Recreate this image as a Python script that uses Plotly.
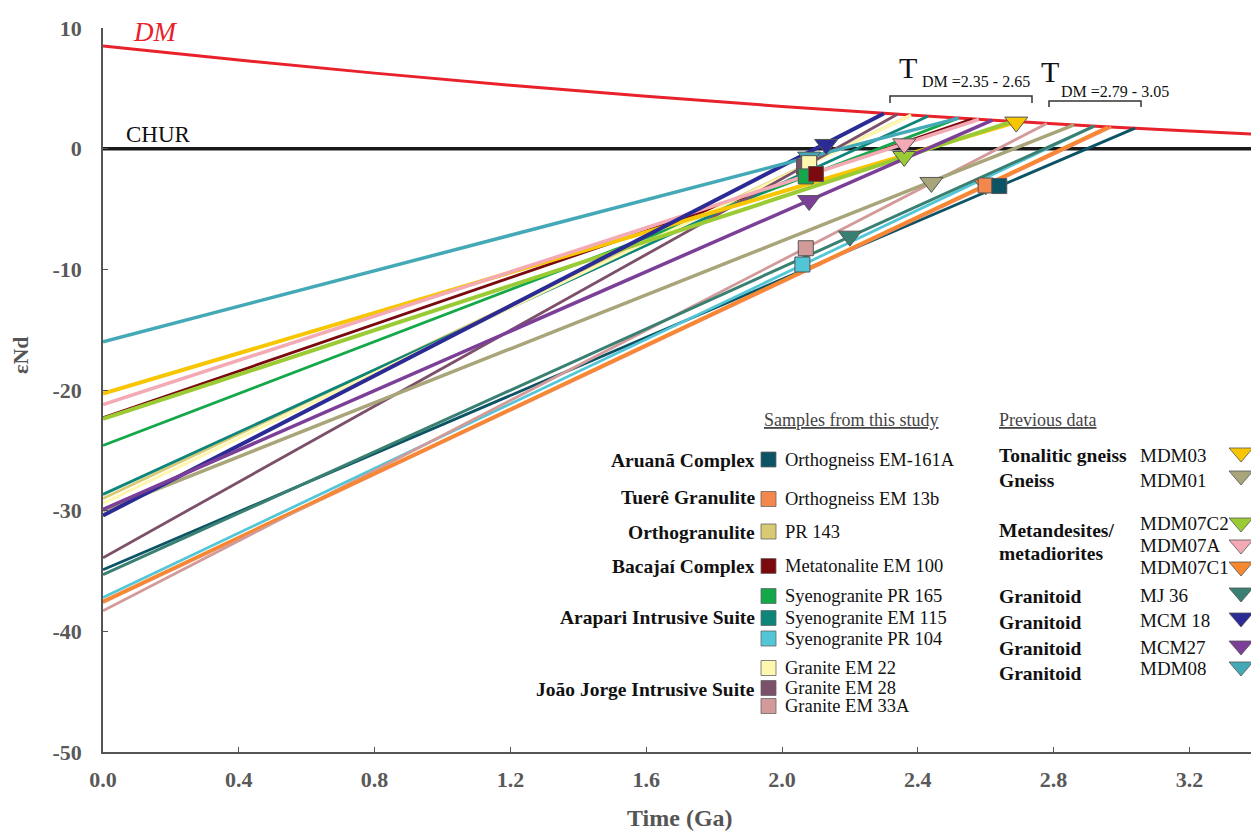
import plotly.graph_objects as go

# ---------------- DATA ----------------
# Depleted mantle curve
dm_t = [0.0, 0.4, 0.8, 1.2, 1.6, 2.0, 2.4, 2.8, 3.2, 3.4]
dm_eps = [8.5, 7.34, 6.26, 5.26, 4.34, 3.5, 2.74, 2.06, 1.46, 1.19]
chur_t = [0.0, 3.4]
chur_eps = [0.0, 0.0]

# Samples from this study (squares)
s_names = ["Orthogneiss EM-161A", "Orthogneiss EM 13b", "PR 143", "Metatonalite EM 100",
           "Syenogranite PR 165", "Syenogranite EM 115", "Syenogranite PR 104",
           "Granite EM 22", "Granite EM 28", "Granite EM 33A"]
s_colors = ["#0c5366", "#f4874b", "#d8ca72", "#7a0a0e", "#15a84a", "#0e857b",
            "#52c6d6", "#fff6b0", "#7b5068", "#d39a9a"]
s_eps0 = [-34.9, -37.6, -29.0, -22.3, -24.6, -28.65, -37.2, -29.4, -33.9, -38.3]
s_t = [2.64, 2.60, 2.07, 2.10, 2.07, 2.08, 2.06, 2.08, 2.065, 2.07]
s_eps_t = [-3.1, -3.05, -1.4, -2.1, -2.3, -1.8, -9.6, -1.2, -1.5, -8.25]
s_tdm = [3.04, 2.97, 2.38, 2.56, 2.52, 2.43, 2.92, 2.38, 2.34, 2.78]
s_eps_dm = [1.70, 1.80, 2.78, 2.46, 2.53, 2.69, 1.87, 2.78, 2.85, 2.09]
s_width = [2.8, 2.8, 2.8, 2.8, 2.8, 2.8, 2.8, 3.0, 2.8, 2.8]

# Previous data (inverted triangles)
p_names = ["MDM03", "MDM01", "MDM07C2", "MDM07A", "MDM07C1", "MJ 36", "MCM 18", "MCM27", "MDM08"]
p_colors = ["#f7c600", "#a8a57a", "#9bcb34", "#f4aab4", "#f7882f", "#3a8072",
            "#2b2b96", "#7c3f98", "#44a9b6"]
p_eps0 = [-20.3, -30.0, -22.4, -21.2, -37.5, -35.3, -30.4, -29.9, -16.0]
p_t = [2.69, 2.44, 2.36, 2.36, 2.60, 2.20, 2.13, 2.08, 2.08]
p_eps_t = [2.2, -2.8, -0.65, 0.4, -3.0, -7.25, 0.35, -4.3, -0.7]
p_tdm = [2.69, 2.86, 2.68, 2.58, 2.96, 2.92, 2.30, 2.62, 2.52]
p_eps_dm = [2.2, 1.97, 2.26, 2.42, 1.81, 1.87, 2.92, 2.36, 2.53]
p_width = [4.0, 3.5, 4.0, 3.5, 2.8, 3.0, 4.0, 3.5, 3.5]

x_ticks = [0.0, 0.4, 0.8, 1.2, 1.6, 2.0, 2.4, 2.8, 3.2]
x_labels = ["0.0", "0.4", "0.8", "1.2", "1.6", "2.0", "2.4", "2.8", "3.2"]
y_ticks = [-50, -40, -30, -20, -10, 0, 10]
y_labels = ["-50", "-40", "-30", "-20", "-10", "0", "10"]

# Legend layout
s_groups = [("Aruanã Complex", 460), ("Tuerê Granulite", 498), ("Orthogranulite", 532),
            ("Bacajaí Complex", 566), ("Arapari Intrusive Suite", 617),
            ("João Jorge Intrusive Suite", 689)]
s_leg_y = [459.5, 499, 531.5, 566, 596, 618, 638.5, 668, 688, 706]
p_groups = [("Tonalitic gneiss", 455), ("Gneiss", 481), ("Metandesites/", 530),
            ("metadiorites", 553), ("Granitoid", 596), ("Granitoid", 622),
            ("Granitoid", 648), ("Granitoid", 673)]
p_leg_y = [455, 480, 523, 545, 567, 595, 620, 647, 668]
p_tri_top = [448, 471, 518, 540, 562, 588, 613, 641, 662]

# ---------------- GEOMETRY ----------------
W, H = 1251, 834
ML, MR, MT, MB = 103, 0, 28, 82
PW, PH = W - ML - MR, H - MT - MB
XMAX = PW / 339.5


def px(x):
    return (x - ML) / PW


def py(y):
    return (H - MB - y) / PH


SERIF = "Liberation Serif"
fig = go.Figure()

fig.add_trace(go.Scatter(x=chur_t, y=chur_eps, mode="lines",
                         line=dict(color="#1a1a1a", width=3.5), hoverinfo="skip"))
fig.add_trace(go.Scatter(x=dm_t, y=dm_eps, mode="lines",
                         line=dict(color="#e8212b", width=3, shape="spline"), hoverinfo="skip"))

for i in range(len(s_names)):
    fig.add_trace(go.Scatter(x=[0, s_tdm[i]], y=[s_eps0[i], s_eps_dm[i]], mode="lines",
                             line=dict(color=s_colors[i], width=s_width[i]), hoverinfo="skip"))
for i in range(len(p_names)):
    fig.add_trace(go.Scatter(x=[0, p_tdm[i]], y=[p_eps0[i], p_eps_dm[i]], mode="lines",
                             line=dict(color=p_colors[i], width=p_width[i]), hoverinfo="skip"))

order_p = [4, 0, 1, 2, 3, 5, 6, 7, 8]
for i in order_p:
    fig.add_trace(go.Scatter(x=[p_t[i]], y=[p_eps_t[i]], mode="markers",
                             marker=dict(symbol="triangle-down", size=20, color=p_colors[i],
                                         line=dict(color="#555555", width=1)),
                             name=p_names[i]))
order_s = [2, 8, 5, 7, 4, 3, 1, 0, 9, 6]
for i in order_s:
    fig.add_trace(go.Scatter(x=[s_t[i]], y=[s_eps_t[i]], mode="markers",
                             marker=dict(symbol="square", size=15, color=s_colors[i],
                                         line=dict(color="#555555", width=1)),
                             name=s_names[i]))

annotations = []
shapes = []


def text(x, y, s, size=19, color="#111111", anchor="left", bold=False, italic=False):
    annotations.append(dict(
        x=px(x), y=py(y), xref="paper", yref="paper", text=s, showarrow=False,
        xanchor=anchor, yanchor="middle",
        font=dict(family=SERIF, size=size, color=color,
                  weight="bold" if bold else "normal",
                  style="italic" if italic else "normal")))


# curve labels
text(155, 32, "DM", size=27, color="#e8212b", anchor="center", italic=True)
text(158, 134.5, "CHUR", size=23, color="#111111", anchor="center")

# T_DM brackets
text(908, 67, "T", size=30, anchor="center")
text(920, 82, "DM =2.35 - 2.65", size=16)
text(1050, 72, "T", size=30, anchor="center")
text(1059, 91, "DM =2.79 - 3.05", size=16)


def path(pts):
    d = "M " + " L ".join(f"{px(a):.5f},{py(b):.5f}" for a, b in pts)
    return d


shapes.append(dict(type="path", xref="paper", yref="paper",
                   path=path([(890, 103), (890, 96), (1032, 96), (1032, 103)]),
                   line=dict(color="#333333", width=1.5)))
shapes.append(dict(type="path", xref="paper", yref="paper",
                   path=path([(1049, 107), (1049, 101), (1141, 101), (1141, 107)]),
                   line=dict(color="#333333", width=1.5)))

# Legend headers
text(762, 420, "<u>Samples from this study</u>", size=18, color="#444444")
text(997, 420, "<u>Previous data</u>", size=18, color="#444444")

for g, y in s_groups:
    text(757, y, g, size=19.5, anchor="right", bold=True)
for i in range(len(s_names)):
    y = s_leg_y[i]
    shapes.append(dict(type="rect", xref="paper", yref="paper",
                       x0=px(761), x1=px(776), y0=py(y + 7.5), y1=py(y - 7.5),
                       fillcolor=s_colors[i], line=dict(color="#666666", width=0.8)))
    text(783, y, s_names[i], size=18.5)

for g, y in p_groups:
    text(997, y, g, size=19.5, bold=True)
for i in range(len(p_names)):
    text(1138, p_leg_y[i], p_names[i], size=19)
    t0 = p_tri_top[i]
    shapes.append(dict(type="path", xref="paper", yref="paper",
                       path=path([(1229, t0), (1253, t0), (1241, t0 + 14)]) + " Z",
                       fillcolor=p_colors[i], line=dict(color="#555555", width=0.8)))

# axis titles
text(680, 818, "<b>Time (Ga)</b>", size=24, color="#555555", anchor="center")
annotations.append(dict(x=px(20), y=py(355), xref="paper", yref="paper", text="<b>εNd</b>",
                        showarrow=False, textangle=-90, xanchor="center", yanchor="middle",
                        font=dict(family=SERIF, size=22, color="#555555")))

fig.update_layout(
    width=W, height=H, margin=dict(l=ML, r=MR, t=MT, b=MB),
    paper_bgcolor="white", plot_bgcolor="white", showlegend=False,
    annotations=annotations, shapes=shapes,
    xaxis=dict(range=[0, XMAX], tickvals=x_ticks, ticktext=x_labels,
               showgrid=False, zeroline=False, showline=True, linecolor="#555555", linewidth=1.5,
               ticks="inside", ticklen=5, tickcolor="#555555", ticklabelstandoff=7,
               tickfont=dict(family=SERIF, size=22, color="#595959", weight="bold")),
    yaxis=dict(range=[-50, 10], tickvals=y_ticks, ticktext=y_labels, showgrid=False,
               zeroline=False, showline=True, linecolor="#555555", linewidth=1.5,
               ticks="inside", ticklen=5, tickcolor="#555555", ticklabelstandoff=15,
               tickfont=dict(family=SERIF, size=22, color="#595959", weight="bold")),
)

fig.write_html("out.html", config={"displayModeBar": False},
               post_script="document.body.style.margin='0px';document.body.style.overflow='hidden';")
